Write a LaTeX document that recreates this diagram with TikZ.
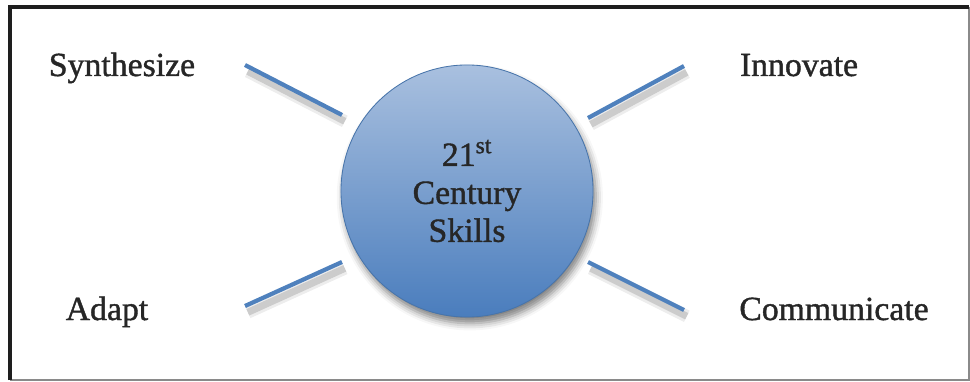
\documentclass[tikz,border=0pt]{standalone}
\usepackage{fontspec}
\setmainfont{Liberation Serif}
\newfontfamily\skillfont{Liberation Serif}[FakeBold=1.2]
\usetikzlibrary{shadows.blur}
\definecolor{skillblue}{HTML}{4F81BD}
\definecolor{skilltop}{HTML}{A9C0DF}
\definecolor{skillbottom}{HTML}{4A7DBD}
\definecolor{frameink}{HTML}{1E1E1E}
\definecolor{frameedge}{HTML}{8A8A8A}

\begin{document}
\begin{tikzpicture}[
  x=0.025cm, y=-0.025cm,
  skill/.style={font=\skillfont\fontsize{24}{28}\selectfont, text=black!85, inner sep=0pt, anchor=base},
  spoke/.style={draw=skillblue, line width=3pt,
    preaction={draw=black, opacity=0.07, line width=9pt, transform canvas={shift={(2pt,-4.5pt)}}},
    preaction={draw=black, opacity=0.14, line width=5pt, transform canvas={shift={(2pt,-4.5pt)}}}},
  hub/.style={circle, draw=skillblue!90!black, line width=0.6pt, minimum size=6.3cm,
    top color=skilltop, bottom color=skillbottom, align=center,
    font=\skillfont\fontsize{24}{27}\selectfont, text=black!85,
    blur shadow={shadow xshift=2pt, shadow yshift=-4.5pt, shadow blur radius=5pt, shadow opacity=50}}
]
\useasboundingbox (0,0) rectangle (970,381);

% frame: dark on top and left, grey on the other two sides
\draw[frameedge, line width=1.2pt] (969,7) -- (969,380) -- (10,380);
\draw[frameink, line width=2.2pt] (10,380) -- (10,7) -- (969,7);

% centre circle
\node[hub] (hub) at (467,191) {21\textsuperscript{st}\\Century\\Skills};

% the four skills
\node[skill] (synth) at (122,76) {Synthesize};
\node[skill] (innov) at (799,76) {Innovate};
\node[skill] (adapt) at (107,320) {Adapt};
\node[skill] (comm) at (834,320) {Communicate};

% spoke ends
\coordinate (s1) at (245,65);  \coordinate (s2) at (342,115);
\coordinate (i1) at (588,118); \coordinate (i2) at (684,66);
\coordinate (a1) at (245,306); \coordinate (a2) at (342,262);
\coordinate (c1) at (588,262); \coordinate (c2) at (684,310);

\draw[spoke] (s1) -- (s2);
\draw[spoke] (i1) -- (i2);
\draw[spoke] (a1) -- (a2);
\draw[spoke] (c1) -- (c2);
\end{tikzpicture}
\end{document}
